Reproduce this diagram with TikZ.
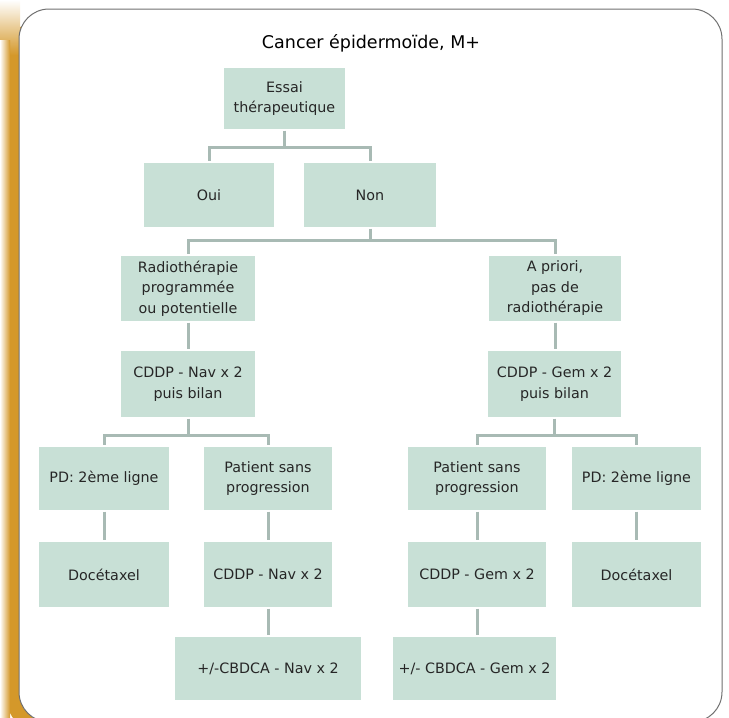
\documentclass[tikz,border=0pt]{standalone}
\usepackage{fontspec}
\setmainfont{DejaVu Sans}
\usetikzlibrary{shadows}
\definecolor{boxfill}{RGB}{200,224,214}
\definecolor{connc}{RGB}{168,186,180}
\definecolor{framec}{RGB}{112,112,112}
\definecolor{shadowc}{RGB}{212,152,42}
\tikzset{
  box/.style={fill=boxfill, draw=white, line width=1.2pt, align=center, inner sep=2pt,
    font=\fontsize{14.3}{20.5}\selectfont, text=black!85,
    drop shadow={opacity=0.18, shadow xshift=0.8pt, shadow yshift=-0.8pt}},
  conn/.style={draw=connc, line width=3pt},
  frame/.style={draw=framec, line width=1pt, fill=white, rounded corners=30pt},
}
\begin{document}
\begin{tikzpicture}[x=1pt,y=-1pt]
\useasboundingbox (0,0) rectangle (729,718);
% shadow and frame
\fill[shadowc, rounded corners=30pt] (7,22) rectangle (712,730);
\shade[top color=white, bottom color=shadowc] (0,0) rectangle (20,55);
\shade[left color=white, right color=shadowc] (0,40) rectangle (10,730);
\path[frame] (19,9) rectangle (722,722);
% title
\node[font=\fontsize{17.5}{20}\selectfont] (title) at (371,43) {Cancer épidermoïde, M+};
% boxes
\node[box, minimum width=123pt, minimum height=63pt] (essai) at (284.5,98.5) {Essai\\thérapeutique};
\node[box, minimum width=132pt, minimum height=66pt] (oui) at (209,195) {Oui};
\node[box, minimum width=134pt, minimum height=66pt] (non) at (370,195) {Non};
\node[box, minimum width=136pt, minimum height=67pt] (radio) at (188,288.5) {Radiothérapie\\programmée\\ou potentielle};
\node[box, minimum width=134pt, minimum height=67pt] (apriori) at (555,288.5) {A priori,\\pas de\\radiothérapie};
\node[box, minimum width=136pt, minimum height=68pt] (cnav) at (188,384) {CDDP - Nav x 2\\puis bilan};
\node[box, minimum width=135pt, minimum height=68pt] (cgem) at (554.5,384) {CDDP - Gem x 2\\puis bilan};
\node[box, minimum width=132pt, minimum height=65pt] (pdl) at (104,478.5) {PD: 2ème ligne};
\node[box, minimum width=130pt, minimum height=65pt] (patl) at (268,478.5) {Patient sans\\progression};
\node[box, minimum width=132pt, minimum height=67pt] (docl) at (104,574.5) {Docétaxel};
\node[box, minimum width=130pt, minimum height=67pt] (navx) at (268,574.5) {CDDP - Nav x 2};
\node[box, minimum width=188pt, minimum height=65pt] (cbnav) at (268,668.5) {+/-CBDCA - Nav x 2};
\node[box, minimum width=140pt, minimum height=65pt] (patr) at (477,478.5) {Patient sans\\progression};
\node[box, minimum width=131pt, minimum height=65pt] (pdr) at (636.5,478.5) {PD: 2ème ligne};
\node[box, minimum width=140pt, minimum height=67pt] (gemx) at (477,574.5) {CDDP - Gem x 2};
\node[box, minimum width=131pt, minimum height=67pt] (docr) at (636.5,574.5) {Docétaxel};
\node[box, minimum width=165pt, minimum height=65pt] (cbgem) at (474.5,668.5) {+/- CBDCA - Gem x 2};
% junction levels
\coordinate (j1) at (0,147);
\coordinate (j2) at (0,240);
\coordinate (j3) at (0,435);
% connectors
\draw[conn] (essai.south) -- (essai.south |- j1) -| (oui.north);
\draw[conn] (essai.south |- j1) -| (non.north);
\draw[conn] (non.south) -- (non.south |- j2) -| (radio.north);
\draw[conn] (non.south |- j2) -| (apriori.north);
\draw[conn] (radio.south) -- (cnav.north);
\draw[conn] (apriori.south) -- (apriori.south |- cgem.north);
\draw[conn] (cnav.south) -- (cnav.south |- j3) -| (pdl.north);
\draw[conn] (cnav.south |- j3) -| (patl.north);
\draw[conn] (cgem.south) -- (cgem.south |- j3) -| (patr.north);
\draw[conn] (cgem.south |- j3) -| (pdr.north);
\draw[conn] (pdl.south) -- (docl.north);
\draw[conn] (patl.south) -- (navx.north);
\draw[conn] (navx.south) -- (cbnav.north);
\draw[conn] (patr.south) -- (gemx.north);
\draw[conn] (gemx.south) -- (gemx.south |- cbgem.north);
\draw[conn] (pdr.south) -- (docr.north);
\end{tikzpicture}
\end{document}
